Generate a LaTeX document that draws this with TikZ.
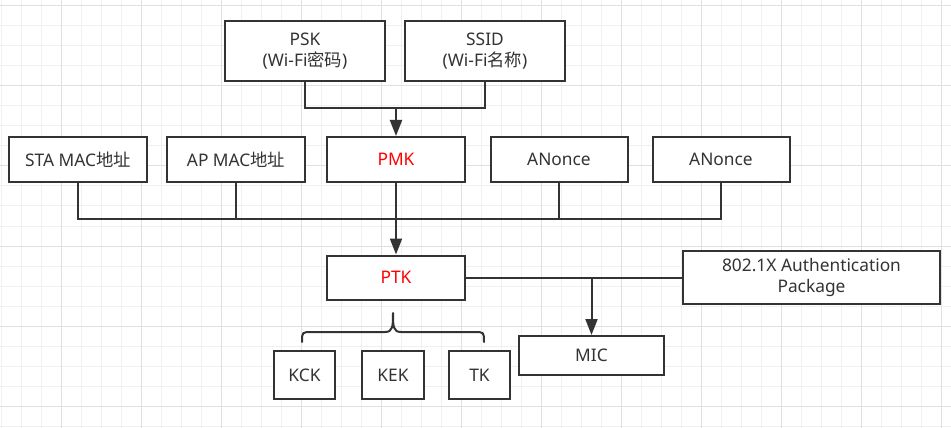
\documentclass[tikz,border=0pt]{standalone}
\usepackage{fontspec}
\setmainfont{Noto Sans}
\newfontfamily\cjk{Noto Sans CJK SC}
\usetikzlibrary{arrows.meta}
\definecolor{ink}{HTML}{333333}
\definecolor{gridminor}{HTML}{F0F0F0}
\definecolor{gridmajor}{HTML}{E0E0E0}
\definecolor{redtext}{HTML}{FF0000}
\tikzset{
  box/.style={draw=ink, line width=1.5pt, fill=white, inner sep=0pt, align=center,
    text=ink, font=\fontsize{13pt}{16pt}\selectfont},
  wire/.style={draw=ink, line width=1.5pt},
  arr/.style={wire, -{Triangle[length=12pt,width=9pt]}},
}
\begin{document}
\begin{tikzpicture}[x=0.75pt, y=-0.75pt]
\useasboundingbox (0,0) rectangle (951,428);
\fill[white] (0,0) rectangle (951,428);
% grid
\foreach \i in {0,...,47} {
  \draw[gridminor, line width=0.75pt] ({1+20*\i},0) -- ({1+20*\i},428);
}
\foreach \j in {0,...,21} {
  \draw[gridminor, line width=0.75pt] (0,{6+20*\j}) -- (951,{6+20*\j});
}
\foreach \i in {0,...,11} {
  \draw[gridmajor, line width=0.75pt] ({61+80*\i},0) -- ({61+80*\i},428);
}
\foreach \j in {0,...,5} {
  \draw[gridmajor, line width=0.75pt] (0,{6+80*\j}) -- (951,{6+80*\j});
}
% nodes
\node[box, minimum width=120pt, minimum height=45pt] (psk) at (305,51) {PSK\\({Wi-Fi}{\cjk 密码})};
\node[box, minimum width=120pt, minimum height=45pt] (ssid) at (485,51) {SSID\\({Wi-Fi}{\cjk 名称})};
\node[box, minimum width=103.5pt, minimum height=33.75pt] (sta) at (78,159.5) {STA MAC{\cjk 地址}};
\node[box, minimum width=103.5pt, minimum height=33.75pt] (ap) at (236,159.5) {AP MAC{\cjk 地址}};
\node[box, minimum width=103.5pt, minimum height=33.75pt, text=redtext] (pmk) at (396,159.5) {PMK};
\node[box, minimum width=102.75pt, minimum height=33.75pt] (an1) at (559,159.5) {ANonce};
\node[box, minimum width=102.75pt, minimum height=33.75pt] (an2) at (721,159.5) {ANonce};
\node[box, minimum width=103.5pt, minimum height=33pt, text=redtext] (ptk) at (396,277.5) {PTK};
\node[box, minimum width=192.75pt, minimum height=39.75pt] (auth) at (811.5,277.5) {802.1X Authentication\\Package};
\node[box, minimum width=108.75pt, minimum height=29.25pt] (mic) at (591.5,355.5) {MIC};
\node[box, minimum width=45.75pt, minimum height=36pt] (kck) at (304.5,375) {KCK};
\node[box, minimum width=46.5pt, minimum height=36pt] (kek) at (393,375) {KEK};
\node[box, minimum width=45.75pt, minimum height=36pt] (tk) at (479.5,375) {TK};
% connectors
\coordinate (j1) at (396,108);
\coordinate (bus) at (396,219);
\draw[wire] (psk.south) |- (j1);
\draw[wire] (ssid.south) |- (j1);
\draw[arr] (j1) -- (pmk.north);
\draw[wire] (sta.south) |- (bus);
\draw[wire] (an2.south) |- (bus);
\draw[wire] (ap.south) -- (ap.south |- bus);
\draw[wire] (an1.south) -- (an1.south |- bus);
\draw[arr] (pmk.south) -- (ptk.north);
\draw[wire] (ptk.east) -- (auth.west);
\coordinate (j2) at (mic.north |- ptk.east);
\draw[arr] (j2) -- (mic.north);
% brace
\coordinate (bl) at (302,342);
\coordinate (br) at (484,342);
\coordinate (bt) at (393,313);
\draw[wire, line cap=round, line join=round]
  (bl) .. controls (302,332) .. (312,332) -- (385,332)
  .. controls (393,332) and (393,326) .. (bt)
  .. controls (393,326) and (393,332) .. (401,332) -- (474,332)
  .. controls (484,332) .. (br);
\end{tikzpicture}
\end{document}
